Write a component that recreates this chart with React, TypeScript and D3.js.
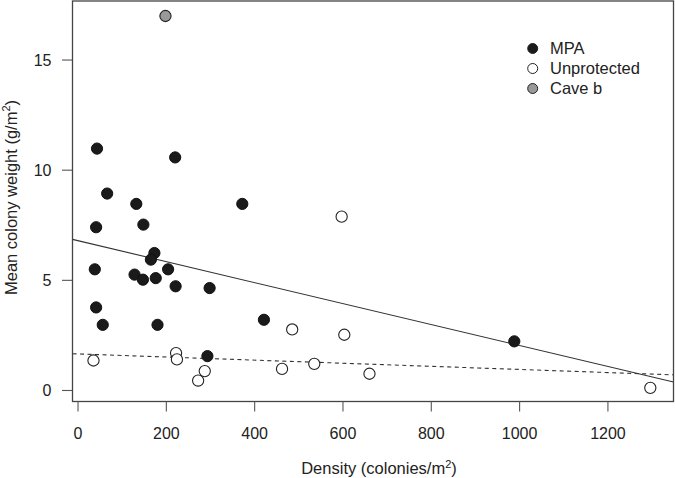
import React from "react";
import * as d3 from "d3";

const mpaX = [43, 220, 66, 132, 372, 41, 148, 38, 173, 165, 128, 147, 176, 204, 221, 298, 41, 56, 180, 421, 293, 988];
const mpaY = [10.98, 10.58, 8.94, 8.47, 8.47, 7.41, 7.53, 5.5, 6.24, 5.94, 5.26, 5.03, 5.1, 5.5, 4.73, 4.65, 3.77, 2.98, 2.98, 3.21, 1.56, 2.23];
const unprotX = [597, 35, 222, 224, 272, 287, 485, 462, 535, 603, 660, 1296];
const unprotY = [7.89, 1.36, 1.7, 1.41, 0.45, 0.88, 2.77, 0.98, 1.21, 2.53, 0.76, 0.12];
const caveX = [198];
const caveY = [17.0];

const mpaFit = { intercept: 6.8, slope: -0.00476 };
const unprotFit = { intercept: 1.66, slope: -0.000705 };

const xTicks = [0, 200, 400, 600, 800, 1000, 1200];
const yTicks = [0, 5, 10, 15];

const legendLabels = ["MPA", "Unprotected", "Cave b"];
const legendFills = ["#1a1a1a", "#ffffff", "#999999"];

const W = 675;
const H = 478;
const plot = { left: 72.5, right: 673.5, top: 1, bottom: 401.5 };
const xDomain = [-12.5, 1348.5];
const yDomain = [-0.5, 17.68];

export default function App() {
  const x = d3.scaleLinear().domain(xDomain).range([plot.left, plot.right]);
  const y = d3.scaleLinear().domain(yDomain).range([plot.bottom, plot.top]);
  const font = "'Liberation Sans', Arial, Helvetica, sans-serif";
  const textColor = "#222";
  const axisColor = "#444";
  const titleSize = 16.5;
  const tickSize = 16;

  const fitLine = (fit: { intercept: number; slope: number }) => {
    const line = d3
      .line<number>()
      .x((d) => x(d))
      .y((d) => y(fit.intercept + fit.slope * d));
    return line([xDomain[0], xDomain[1]]) || "";
  };

  const pts = (xs: number[], ys: number[]) => xs.map((v, i) => [v, ys[i]]);
  const r = 5.6;

  return (
    <svg
      width={W}
      height={H}
      style={{ position: "absolute", left: 0, top: 0, background: "#fff" }}
      fontFamily={font}
    >
      <rect x={0} y={0} width={W} height={H} fill="#fff" />
      <defs>
        <clipPath id="plotclip">
          <rect x={plot.left} y={plot.top} width={plot.right - plot.left} height={plot.bottom - plot.top} />
        </clipPath>
      </defs>

      {/* fit lines */}
      <g clipPath="url(#plotclip)">
        <path d={fitLine(mpaFit)} stroke="#333" strokeWidth={1.1} fill="none" />
        <path d={fitLine(unprotFit)} stroke="#333" strokeWidth={1.1} fill="none" strokeDasharray="4,3.5" />
      </g>

      {/* points */}
      {pts(mpaX, mpaY).map(([a, b], i) => (
        <circle key={"m" + i} cx={x(a)} cy={y(b)} r={r} fill="#1a1a1a" stroke="#111" strokeWidth={1} />
      ))}
      {pts(unprotX, unprotY).map(([a, b], i) => (
        <circle key={"u" + i} cx={x(a)} cy={y(b)} r={r} fill="#fff" stroke="#222" strokeWidth={1.1} />
      ))}
      {pts(caveX, caveY).map(([a, b], i) => (
        <circle key={"c" + i} cx={x(a)} cy={y(b)} r={r} fill="#999" stroke="#222" strokeWidth={1.1} />
      ))}

      {/* box */}
      <rect
        x={plot.left}
        y={plot.top}
        width={plot.right - plot.left}
        height={plot.bottom - plot.top}
        fill="none"
        stroke={axisColor}
        strokeWidth={1.3}
      />

      {/* x axis ticks */}
      {xTicks.map((t) => (
        <g key={"xt" + t}>
          <line x1={x(t)} x2={x(t)} y1={plot.bottom} y2={plot.bottom + 10} stroke="#555" strokeWidth={1.1} />
          <text x={x(t)} y={438.5} textAnchor="middle" fontSize={tickSize} fill={textColor}>
            {t}
          </text>
        </g>
      ))}

      {/* y axis ticks */}
      {yTicks.map((t) => (
        <g key={"yt" + t}>
          <line x1={plot.left - 10.5} x2={plot.left} y1={y(t)} y2={y(t)} stroke="#555" strokeWidth={1.1} />
          <text x={51.5} y={y(t)} dy="0.36em" textAnchor="end" fontSize={tickSize} fill={textColor}>
            {t}
          </text>
        </g>
      ))}

      {/* axis titles */}
      <text x={379} y={474} textAnchor="middle" fontSize={titleSize} fill={textColor}>
        Density (colonies/m
        <tspan fontSize={11} dy={-6.5}>2</tspan>
        <tspan dy={6.5}>)</tspan>
      </text>
      <text
        transform={`translate(16.5, 197.5) rotate(-90)`}
        textAnchor="middle"
        fontSize={titleSize}
        fill={textColor}
      >
        Mean colony weight (g/m
        <tspan fontSize={11} dy={-6.5}>2</tspan>
        <tspan dy={6.5}>)</tspan>
      </text>

      {/* legend */}
      {legendLabels.map((lab, i) => (
        <g key={"lg" + i}>
          <circle
            cx={532.7}
            cy={48.5 + i * 20}
            r={5}
            fill={legendFills[i]}
            stroke="#222"
            strokeWidth={1}
          />
          <text x={550} y={48.5 + i * 20 + 5.5} fontSize={titleSize} fill={textColor}>
            {lab}
          </text>
        </g>
      ))}
    </svg>
  );
}
